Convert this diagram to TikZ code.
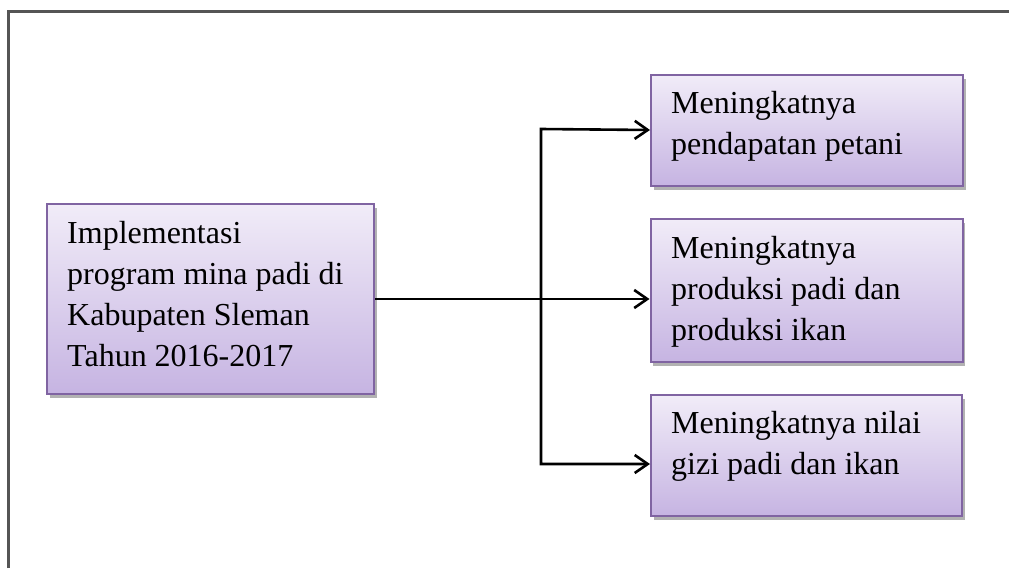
\documentclass[tikz,border=0pt]{standalone}
\usepackage{fontspec}
\setmainfont{Liberation Serif}
\usetikzlibrary{arrows.meta,shadows,calc}
\definecolor{boxtop}{RGB}{241,236,248}
\definecolor{boxbot}{RGB}{198,180,226}
\definecolor{boxline}{RGB}{128,100,162}
\definecolor{framecol}{RGB}{85,85,85}
\begin{document}
\begin{tikzpicture}[x=1pt,y=-1pt,
  box/.style={draw=boxline, line width=2pt, top color=boxtop, bottom color=boxbot,
    anchor=north west, inner sep=0pt,
    drop shadow={shadow xshift=2.5pt, shadow yshift=-4pt, fill=black, opacity=0.3}},
  txt/.style={anchor=north west, inner sep=0pt, align=left,
    font=\fontsize{32}{41}\selectfont},
  conn/.style={line width=2.6pt, black},
  tip/.style={Straight Barb[length=9pt,width=17pt]}]
\useasboundingbox (0,0) rectangle (1009,568);
% outer frame (only top and left edges visible)
\draw[framecol, line width=2.2pt] (8.5,568) -- (8.5,11.5) -- (1009,11.5);
% boxes
\node[box, minimum width=327pt, minimum height=190pt] (L) at (46,203) {};
\node[box, minimum width=312pt, minimum height=111pt] (b1) at (650,73.5) {};
\node[box, minimum width=312pt, minimum height=143pt] (b2) at (649.5,218) {};
\node[box, minimum width=311pt, minimum height=121pt] (b3) at (650,394) {};
% texts
\node[txt] (tL) at (67,221.5) {Implementasi\\program mina padi di\\Kabupaten Sleman\\Tahun 2016-2017};
\node[txt] (t1) at (671,91.5) {Meningkatnya\\pendapatan petani};
\node[txt] (t2) at (671,236.5) {Meningkatnya\\produksi padi dan\\produksi ikan};
\node[txt] (t3) at (671,411) {Meningkatnya nilai\\gizi padi dan ikan};
% connectors
\coordinate (jt) at (541,129);
\coordinate (jb) at (541,464);
\draw[conn, -{Straight Barb[length=13pt,width=18pt]}] (L.east) -- (L.east -| b2.west);
\draw[conn, {Straight Barb[length=13pt,width=18pt]}-{Straight Barb[length=13pt,width=18pt]}]
  (b3.west |- jb) -- (jb) -- (jt) -- (b1.west);
\end{tikzpicture}
\end{document}
